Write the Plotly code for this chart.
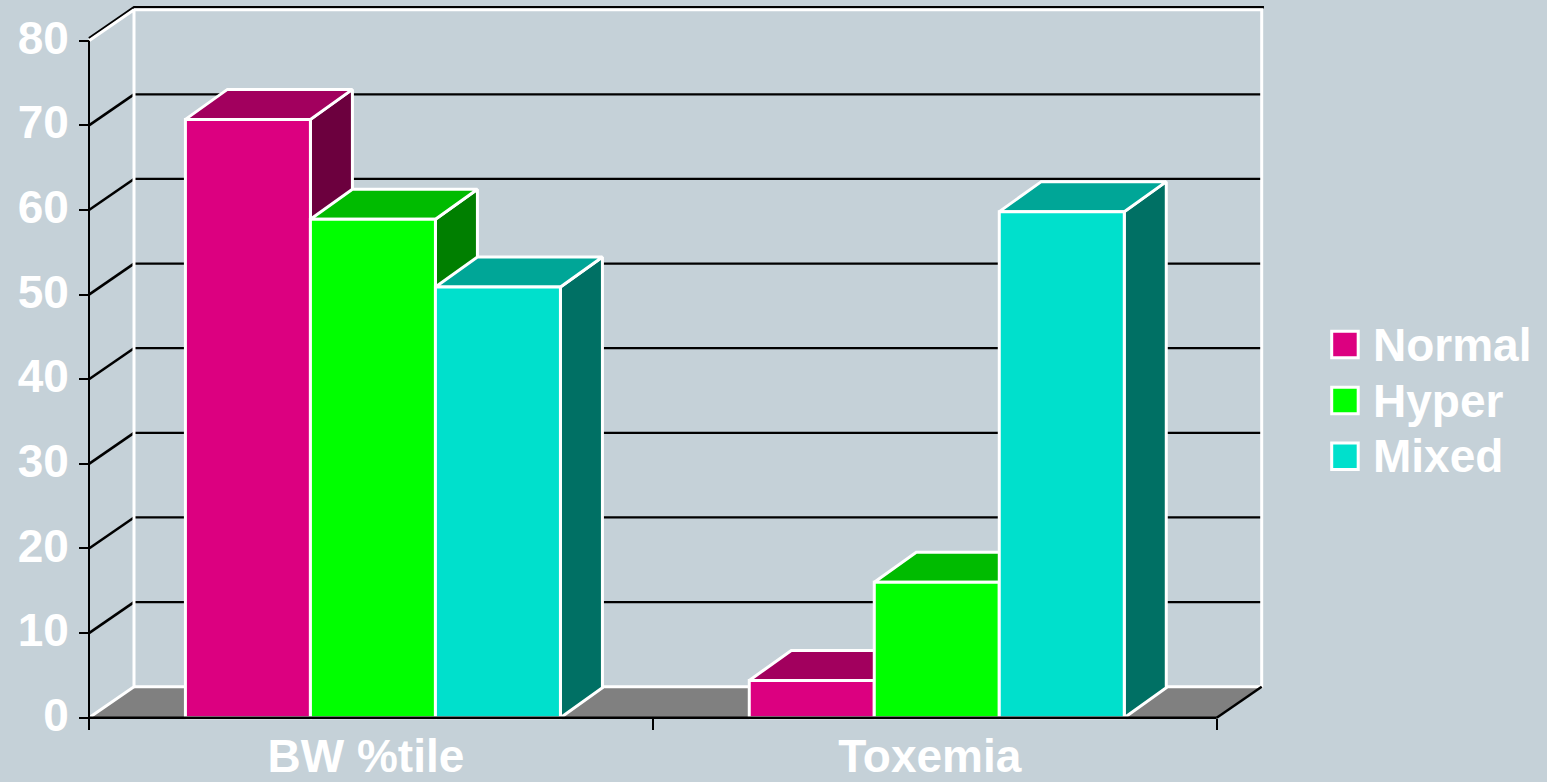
import plotly.graph_objects as go

# ---------------- data ----------------
categories = ["BW %tile", "Toxemia"]
series_names = ["Normal", "Hyper", "Mixed"]
normal_vals = [70.7, 4.4]
hyper_vals = [58.9, 16.0]
mixed_vals = [50.9, 59.8]
y_tick_vals = [0, 10, 20, 30, 40, 50, 60, 70, 80]
series_vals = [normal_vals, hyper_vals, mixed_vals]

# ---------------- styles ----------------
front_cols = ["#DC0080", "#00FF00", "#00E0CC"]
top_cols = ["#A2005E", "#00BB00", "#00A697"]
side_cols = ["#6C003E", "#007F00", "#007064"]
BG = "#C5D1D8"
FLOOR = "#808080"
FONT = dict(family="Liberation Sans, Arial, sans-serif", size=46, color="white", weight="bold")

# ---------------- geometry (layout) ----------------
W, H = 1547, 782
X_PX0, X_PX2 = 89.0, 1216.7      # pixel columns of category boundaries 0 and 2
Y_PX0, Y_PX80 = 717.7, 40.7      # pixel rows of value 0 and 80
SX = (X_PX2 - X_PX0) / 2.0
SY = (Y_PX0 - Y_PX80) / 80.0
XR = [-X_PX0 / SX, (W - X_PX0) / SX]
YR = [-(H - Y_PX0) / SY, Y_PX0 / SY]
DX, DY = 45 / SX, 31 / SY          # wall depth in axis units
BDX, BDY = 42 / SX, 30 / SY        # bar depth in axis units
BAR_W = 0.2217
GAP_L = 0.171
YTOP = y_tick_vals[-1]
NCAT = len(categories)
TOP_OFF = 2.5 / SY

traces = []


def poly(xs, ys, fill=None, color="white", width=3.0):
    xs = list(xs) + [xs[0]]
    ys = list(ys) + [ys[0]]
    kw = dict(x=xs, y=ys, mode="lines", hoverinfo="skip", showlegend=False)
    if fill is not None:
        kw.update(fill="toself", fillcolor=fill)
    if width > 0:
        kw["line"] = dict(color=color, width=width)
    else:
        kw["line"] = dict(width=0, color=fill)
    return go.Scatter(**kw)


def seg(xs, ys, color, width):
    return go.Scatter(x=list(xs), y=list(ys), mode="lines", hoverinfo="skip",
                      showlegend=False, line=dict(color=color, width=width))


# walls fills
left_wall_x = [0, DX, DX, 0]
left_wall_y = [0, DY, YTOP + DY, YTOP]
back_wall_x = [DX, NCAT + DX, NCAT + DX, DX]
back_wall_y = [DY, DY, YTOP + DY, YTOP + DY]
traces.append(poly(left_wall_x, left_wall_y, fill=BG, width=0))
traces.append(poly(back_wall_x, back_wall_y, fill=BG, width=0))

# gridlines
for v in y_tick_vals[1:-1]:
    traces.append(seg([DX, NCAT + DX], [v + DY, v + DY], "black", 2.2))
    traces.append(seg([0, DX], [v, v + DY], "black", 2.6))
# top edge (black)
traces.append(seg([0, DX, NCAT + DX + 0.004], [YTOP + TOP_OFF, YTOP + DY + TOP_OFF, YTOP + DY + TOP_OFF], "black", 2.5))

# floor
traces.append(poly([0, NCAT, NCAT + DX, DX], [0, 0, DY, DY], fill=FLOOR, width=0))

# wall outlines (white)
traces.append(seg([0, DX, DX, 0], [0, DY, YTOP + DY, YTOP], "white", 3))
traces.append(seg([DX, NCAT + DX, NCAT + DX, DX], [DY, DY, YTOP + DY, YTOP + DY], "white", 3))
# floor right edge
traces.append(seg([NCAT, NCAT + DX], [0, DY], "black", 2.5))
# front value axis line
traces.append(seg([0, 0], [0, YTOP], "black", 2))

# bars (painter order left to right)
for i in range(NCAT):
    for j, vals in enumerate(series_vals):
        v = vals[i]
        x0 = i + GAP_L + j * BAR_W
        x1 = x0 + BAR_W
        traces.append(poly([x1, x1 + BDX, x1 + BDX, x1], [0, BDY, v + BDY, v], fill=side_cols[j]))
        traces.append(poly([x0, x1, x1 + BDX, x0 + BDX], [v, v, v + BDY, v + BDY], fill=top_cols[j]))
        traces.append(poly([x0, x1, x1, x0], [0, 0, v, v], fill=front_cols[j]))

# front category axis line
traces.append(seg([0, NCAT], [0, 0], "black", 2.6))

fig = go.Figure(traces)

# legend (manual, large swatches)
shapes = []
annotations = []
LEG_X0, LEG_SZ, LEG_TX = 1331.7, 26.5, 1371.0
LEG_Y = [344.5, 400.5, 456.2]
for j, name in enumerate(series_names):
    cy = LEG_Y[j]
    shapes.append(dict(type="rect", xref="paper", yref="paper",
                       x0=LEG_X0 / W, x1=(LEG_X0 + LEG_SZ) / W,
                       y0=1 - (cy + LEG_SZ / 2) / H, y1=1 - (cy - LEG_SZ / 2) / H,
                       fillcolor=front_cols[j], line=dict(color="white", width=3)))
    annotations.append(dict(text=name, xref="paper", yref="paper", x=LEG_TX / W,
                            y=1 - cy / H, xanchor="left", yanchor="middle",
                            showarrow=False, font=FONT))

fig.update_layout(
    width=W, height=H, autosize=False,
    margin=dict(l=0, r=0, t=0, b=0, pad=0),
    paper_bgcolor=BG, plot_bgcolor=BG,
    showlegend=False,
    shapes=shapes, annotations=annotations,
    xaxis=dict(range=XR, anchor="free", position=(H - Y_PX0) / H,
               tickmode="array", tickvals=[i + 0.5 for i in range(NCAT)], ticktext=categories,
               ticks="", showline=False, showgrid=False, zeroline=False,
               tickfont=FONT, ticklabelstandoff=7, ticklabelshift=-5, automargin=False, fixedrange=True,
               minor=dict(tickmode="array", tickvals=list(range(NCAT + 1)), ticks="outside",
                          ticklen=11, tickwidth=2, tickcolor="black", showgrid=False)),
    yaxis=dict(range=YR, anchor="free", position=X_PX0 / W,
               tickmode="array", tickvals=y_tick_vals,
               ticks="outside", ticklen=10, tickwidth=2, tickcolor="black",
               showline=False, showgrid=False, zeroline=False,
               tickfont=FONT, ticklabelstandoff=1, ticklabelshift=-3, automargin=False, fixedrange=True),
)

fig.write_html("out.html", config={"displayModeBar": False},
               post_script="document.body.style.margin='0';document.body.style.overflow='hidden';")
